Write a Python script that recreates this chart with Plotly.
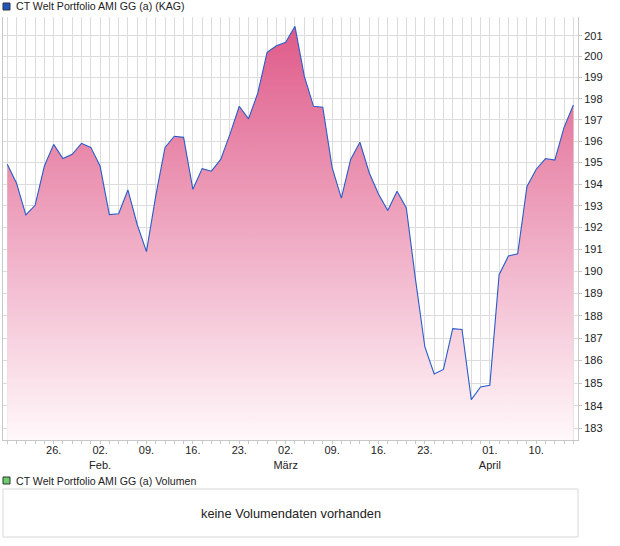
import math
import plotly.graph_objects as go

# ---- data (trading days, Jan 19 – Apr 16) ----
dates = [
    "2026-01-19", "2026-01-20", "2026-01-21", "2026-01-22", "2026-01-23",
    "2026-01-26", "2026-01-27", "2026-01-28", "2026-01-29", "2026-01-30",
    "2026-02-02", "2026-02-03", "2026-02-04", "2026-02-05", "2026-02-06",
    "2026-02-09", "2026-02-10", "2026-02-11", "2026-02-12", "2026-02-13",
    "2026-02-16", "2026-02-17", "2026-02-18", "2026-02-19", "2026-02-20",
    "2026-02-23", "2026-02-24", "2026-02-25", "2026-02-26", "2026-02-27",
    "2026-03-02", "2026-03-03", "2026-03-04", "2026-03-05", "2026-03-06",
    "2026-03-09", "2026-03-10", "2026-03-11", "2026-03-12", "2026-03-13",
    "2026-03-16", "2026-03-17", "2026-03-18", "2026-03-19", "2026-03-20",
    "2026-03-23", "2026-03-24", "2026-03-25", "2026-03-26", "2026-03-27",
    "2026-03-30", "2026-03-31", "2026-04-01", "2026-04-02", "2026-04-07",
    "2026-04-08", "2026-04-09", "2026-04-10", "2026-04-13", "2026-04-14",
    "2026-04-15", "2026-04-16",
]
values = [
    194.92, 194.04, 192.58, 193.02, 194.84,
    195.85, 195.19, 195.39, 195.90, 195.71,
    194.84, 192.59, 192.63, 193.73, 192.14,
    190.90, 193.46, 195.71, 196.23, 196.18,
    193.76, 194.72, 194.60, 195.15, 196.33,
    197.64, 197.05, 198.27, 200.20, 200.52,
    200.68, 201.45, 199.08, 197.64, 197.60,
    194.78, 193.35, 195.15, 195.95, 194.53,
    193.54, 192.78, 193.67, 192.90, 189.60,
    186.60, 185.40, 185.60, 187.42, 187.38,
    184.27, 184.83, 184.90, 189.85, 190.70,
    190.80, 193.89, 194.69, 195.19, 195.12,
    196.65, 197.70,
]
label_dates = ["2026-01-26", "2026-02-02", "2026-02-09", "2026-02-16", "2026-02-23",
               "2026-03-02", "2026-03-09", "2026-03-16", "2026-03-23", "2026-04-01",
               "2026-04-10"]
label_texts = ["26.", "02.<br>Feb.", "09.", "16.", "23.",
               "02.<br>März", "09.", "16.", "23.", "01.<br>April", "10."]
y_ticks = list(range(183, 202))

title_text = "CT Welt Portfolio AMI GG (a) (KAG)"
volume_title = "CT Welt Portfolio AMI GG (a) Volumen"
volume_note = "keine Volumendaten vorhanden"

# ---- layout geometry (pixels) ----
W, H = 620, 546
L, R, T, B = 3, 42, 17, 106
plot_w = W - L - R
plot_h = H - T - B


def px(x):
    return (x - L) / plot_w


def py(y):
    return (H - B - y) / plot_h


lab_map = dict(zip(label_dates, label_texts))
all_ticktext = [lab_map.get(d, "") for d in dates]

FONT = "Liberation Sans, Arial, sans-serif"
GRID = "#dcdcdc"

fig = go.Figure()
fig.add_trace(go.Scatter(
    x=dates, y=values, mode="lines",
    line=dict(color="#2a5cc8", width=1.1),
    fill="tozeroy",
    fillgradient=dict(type="vertical", start=182.5, stop=201.5,
                      colorscale=[[0, "#fff8fb"], [1, "#df5a88"]]),
    hoverinfo="x+y",
))

fig.update_layout(
    width=W, height=H,
    margin=dict(l=L, r=R, t=T, b=B, pad=0),
    paper_bgcolor="white", plot_bgcolor="white",
    showlegend=False,
    font=dict(family=FONT, size=11, color="#222222"),
    xaxis=dict(
        type="category", range=[-0.46, 61.5],
        tickmode="array", tickvals=dates, ticktext=all_ticktext,
        showgrid=True, gridcolor=GRID, gridwidth=1,
        ticks="outside", ticklen=3, tickcolor="#c8c8c8",
        ticklabelstandoff=-3,
        showline=True, linecolor="#c8c8c8", linewidth=1,
        tickangle=0, tickfont=dict(size=11, color="#222"),
        zeroline=False,
    ),
    yaxis=dict(
        type="log", side="right",
        range=[math.log10(182.5), math.log10(201.9)],
        tickmode="array", tickvals=y_ticks, ticktext=[str(v) for v in y_ticks],
        showgrid=True, gridcolor=GRID, gridwidth=1,
        ticks="outside", ticklen=3, tickcolor="#c8c8c8",
        showline=True, linecolor="#c8c8c8", linewidth=1, mirror=True,
        tickfont=dict(size=11, color="#222"),
        zeroline=False,
    ),
)

shapes = [
    # top legend square
    dict(type="rect", xref="paper", yref="paper",
         x0=px(3), x1=px(10), y0=py(10), y1=py(3),
         fillcolor="#1f56c0", line=dict(color="#333333", width=1)),
    # volume legend square
    dict(type="rect", xref="paper", yref="paper",
         x0=px(3), x1=px(10), y0=py(484), y1=py(477),
         fillcolor="#6dcc6d", line=dict(color="#333333", width=1)),
    # empty volume panel
    dict(type="rect", xref="paper", yref="paper",
         x0=px(3), x1=px(578), y0=py(537), y1=py(489),
         fillcolor="rgba(0,0,0,0)", line=dict(color="#d8d8d8", width=1)),
]
annotations = [
    dict(text=title_text, xref="paper", yref="paper", x=px(14), y=py(6.5),
         xanchor="left", yanchor="middle", showarrow=False,
         font=dict(size=10.6, color="#222")),
    dict(text=volume_title, xref="paper", yref="paper", x=px(14), y=py(480.5),
         xanchor="left", yanchor="middle", showarrow=False,
         font=dict(size=10.6, color="#222")),
    dict(text=volume_note, xref="paper", yref="paper", x=px(291), y=py(513),
         xanchor="center", yanchor="middle", showarrow=False,
         font=dict(size=12.8, color="#222")),
]
fig.update_layout(shapes=shapes, annotations=annotations)

fig.write_html("out.html",
               config={"displayModeBar": False},
               post_script="document.body.style.margin='0';document.body.style.overflow='hidden';")
